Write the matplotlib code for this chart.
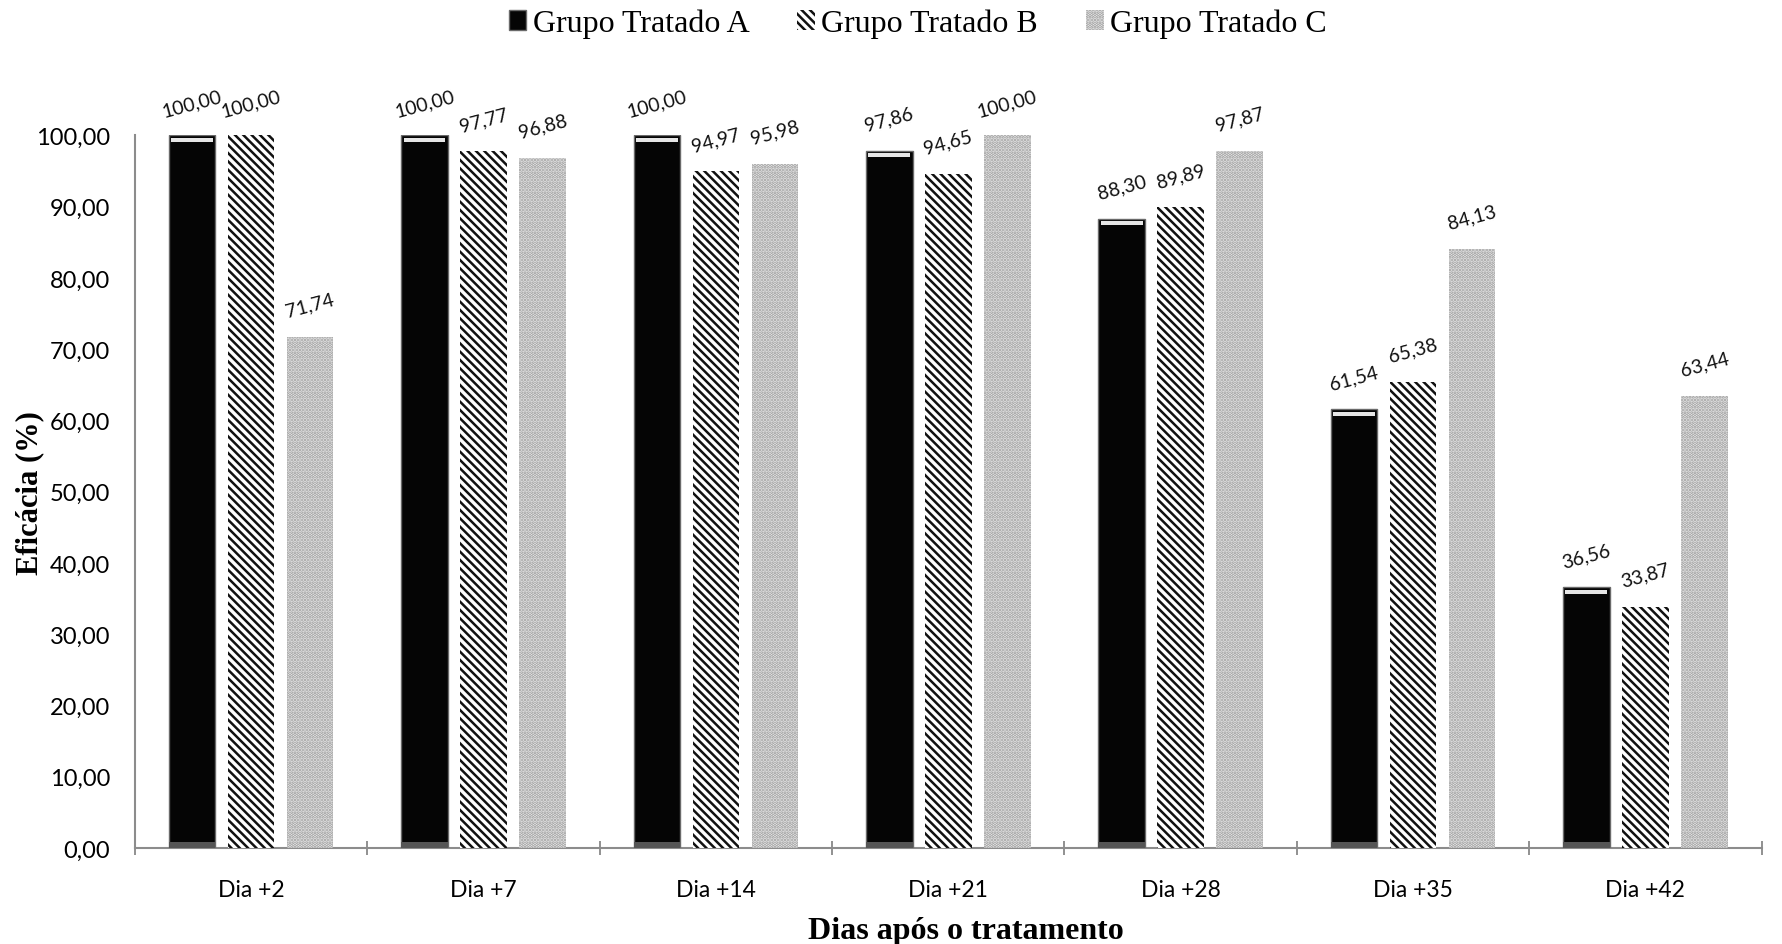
import numpy as np
import matplotlib
matplotlib.use("Agg")
from matplotlib import pyplot as plt

# dados
dias = ["Dia +2", "Dia +7", "Dia +14", "Dia +21", "Dia +28", "Dia +35", "Dia +42"]
grupo_a = [100.00, 100.00, 100.00, 97.86, 88.30, 61.54, 36.56]
grupo_b = [100.00, 97.77, 94.97, 94.65, 89.89, 65.38, 33.87]
grupo_c = [71.74, 96.88, 95.98, 100.00, 97.87, 84.13, 63.44]
nomes = ["Grupo Tratado A", "Grupo Tratado B", "Grupo Tratado C"]
yticks = [0, 10, 20, 30, 40, 50, 60, 70, 80, 90, 100]

plt.rcParams['hatch.linewidth'] = 1.8
fig = plt.figure(figsize=(17.83, 9.45), dpi=100)
ax = fig.add_axes([0.0757, 0.1016, 0.9123, 0.754])

x = np.arange(len(dias))
w = 0.2
d = 0.254

ba = ax.bar(x - d, grupo_a, w, color='#050505', edgecolor='#6a6a6a', linewidth=1.0, label=nomes[0], zorder=3)
bb = ax.bar(x, grupo_b, w, color='white', edgecolor='#111111', linewidth=0, hatch='\\\\\\\\', label=nomes[1], zorder=3)
bc = ax.bar(x + d, grupo_c, w, color='#f0f0f0', edgecolor='#999999', linewidth=0, hatch='.....', label=nomes[2], zorder=3)

# brilho no topo das barras pretas
ax.bar(x - d, [0.6] * len(dias), w * 0.9, bottom=np.array(grupo_a) - 0.9, color='#e6e6e6', linewidth=0, zorder=4)
ax.bar(x - d, [0.8] * len(dias), w, color='#555555', linewidth=0, zorder=4)

def fmt(v):
    return ("%.2f" % v).replace(".", ",")

for bars, vals in [(ba, grupo_a), (bb, grupo_b), (bc, grupo_c)]:
    for b, v in zip(bars, vals):
        ax.annotate(fmt(v), (b.get_x() + b.get_width() / 2, v), xytext=(0, 23),
                    textcoords='offset points', ha='center', va='center',
                    rotation=15, fontsize=14, family='Lato', color='#111111')

ax.set_ylim(0, 100)
ax.set_xlim(-0.5, len(dias) - 0.5)
ax.set_yticks(yticks)
ax.set_yticklabels([fmt(v) for v in yticks], family='Lato', fontsize=17)
ax.set_xticks(x)
ax.set_xticklabels(dias, family='Lato', fontsize=16.5)
ax.set_xticks(np.arange(len(dias) + 1) - 0.5, minor=True)
ax.tick_params(axis='x', which='major', length=0, pad=22)
ax.tick_params(axis='x', which='minor', length=10, direction='inout', color='#888888', width=1.3)
ax.tick_params(axis='y', length=0, pad=18)

for s in ['top', 'right']:
    ax.spines[s].set_visible(False)
for s in ['left', 'bottom']:
    ax.spines[s].set_color('#8c8c8c')
    ax.spines[s].set_linewidth(1.5)

ax.set_xlabel('Dias após o tratamento', family='Liberation Serif', fontweight='bold', fontsize=23)
ax.xaxis.set_label_coords(0.511, -0.095)
ax.set_ylabel('Eficácia (%)', family='Liberation Serif', fontweight='bold', fontsize=22)
ax.yaxis.set_label_coords(-0.056, 0.5)

fig.legend(handles=[ba, bb, bc], labels=nomes, loc='center', bbox_to_anchor=(0.5147, 0.974),
           ncol=3, frameon=False, prop={'family': 'Liberation Serif', 'size': 23},
           handlelength=0.55, handleheight=0.55, handletextpad=0.2, columnspacing=1.5)

plt.savefig('out.png', dpi=100)
